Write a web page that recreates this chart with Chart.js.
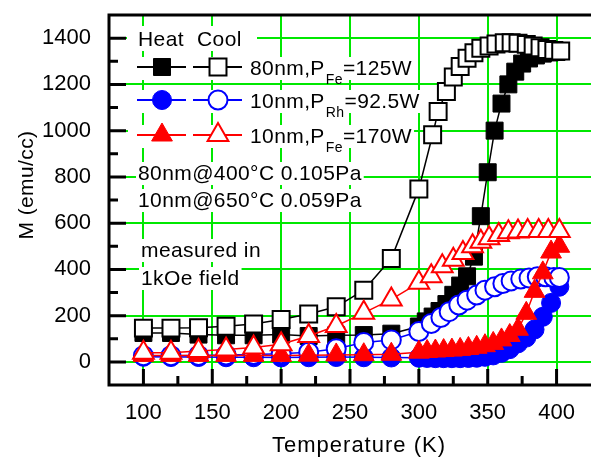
<!DOCTYPE html>
<html lang="en">
<head>
<meta charset="UTF-8">
<title>M vs Temperature</title>
<script src="https://cdn.jsdelivr.net/npm/chart.js"></script>
<style>
  html, body { margin: 0; padding: 0; background: #fff; }
  #wrap { width: 605px; height: 457px; }
</style>
</head>
<body>
<div id="wrap"><canvas id="mtChart" width="605" height="457"></canvas></div>
<script>
// ---- data ----
// 80nm, P_Fe = 125W (squares)
const T_SQ_HEAT = [100,120,140,160,180,200,220,240,260,280,300,305,310,315,320,325,330,335,340,345,350,355,360,365,370,375,380,385,390,395,400];
const M_SQ_HEAT = [125,125,118,115,115,118,112,115,116,122,153,175,196,220,250,290,330,370,455,630,820,1000,1117,1200,1255,1290,1312,1325,1333,1338,1340];
const T_SQ_COOL = [100,120,140,160,180,200,220,240,260,280,300,310,314,320,325,330,335,340,345,351,356,362,367,372,378,383,388,393,398,403];
const M_SQ_COOL = [146,146,148,154,164,183,207,238,310,447,748,982,1083,1169,1232,1277,1313,1337,1356,1366,1375,1380,1380,1378,1373,1366,1358,1351,1347,1344];

// 10nm, P_Rh = 92.5W (circles)
const T_CI_HEAT = [100,120,140,160,180,200,220,240,260,280,300,306,312,318,324,330,336,342,348,354,360,366,372,378,384,390,396,402];
const M_CI_HEAT = [22,21,21,20,20,19,20,21,20,19,18,17,16,16,16,16,17,18,22,28,39,55,80,105,140,195,255,325];
const T_CI_COOL = [100,120,140,160,180,200,220,240,260,280,300,309,316,322,329,335,342,348,355,361,367,374,380,386,392,398,402];
const M_CI_COOL = [27,27,28,30,32,35,42,57,84,95,131,166,192,217,246,267,289,310,325,339,350,358,363,368,368,365,365];

// 10nm, P_Fe = 170W (triangles)
const T_TR_HEAT = [100,120,140,160,180,200,220,240,260,280,300,306,312,318,324,330,336,342,348,354,360,366,372,378,384,390,396,402];
const M_TR_HEAT = [28,28,28,28,28,28,29,30,31,33,42,45,47,49,51,54,58,63,70,80,95,114,141,210,305,385,475,500];
const T_TR_COOL = [100,120,140,160,180,200,220,240,260,280,300,309,317,325,332,339,345,351,358,365,372,379,387,394,402];
const M_TR_COOL = [40,40,47,54,62,76,112,155,212,270,342,370,413,442,471,500,520,535,549,561,564,566,566,566,566];

// axes
const X_TICKS = [100,150,200,250,300,350,400];
const X_MINOR = [125,175,225,275,325,375];
const Y_TICKS = [0,200,400,600,800,1000,1200,1400];
const Y_MINOR = [100,300,500,700,900,1100,1300];

const GREEN = '#00e800';
const FONT = 'Arial, "Liberation Sans", sans-serif';
const R = { rect: 12, circle: 9.5, triangle: 12 };

function pts(ts, ms) {
  return ts.map((t, i) => ({ x: t, y: ms[i] }));
}

function series(label, ts, ms, style, color, filled) {
  return {
    label: label,
    data: pts(ts, ms),
    showLine: true,
    fill: false,
    borderColor: color,
    borderWidth: 1.5,
    pointStyle: style,
    pointRadius: R[style],
    pointHoverRadius: R[style],
    pointBackgroundColor: filled ? color : '#ffffff',
    pointBorderColor: color,
    pointBorderWidth: filled ? 1 : 2
  };
}

// legend rows: marker style, colour, marker y, text baseline, text pieces [main, sub, rest]
const legendRows = [
  { style: 'rect', color: '#000000', y: 67, base: 75, text: ['80nm,P', 'Fe', '=125W'] },
  { style: 'circle', color: '#0000ff', y: 100, base: 108, text: ['10nm,P', 'Rh', '=92.5W'] },
  { style: 'triangle', color: '#ff0000', y: 135, base: 143, text: ['10nm,P', 'Fe', '=170W'] }
];
const notes = [
  { x: 138, base: 180, text: '80nm@400\u00b0C 0.105Pa' },
  { x: 138, base: 207, text: '10nm@650\u00b0C 0.059Pa' },
  { x: 141, base: 257, text: 'measured in' },
  { x: 141, base: 285, text: '1kOe field' }
];

function marker(ctx, style, x, y, r, fillCol, strokeCol, lw) {
  ctx.save();
  ctx.beginPath();
  if (style === 'rect') {
    const s = r * Math.SQRT1_2;
    ctx.rect(x - s, y - s, 2 * s, 2 * s);
  } else if (style === 'circle') {
    ctx.arc(x, y, r, 0, Math.PI * 2);
  } else {
    const a = Math.PI * 2 / 3;
    ctx.moveTo(x, y - r);
    ctx.lineTo(x + Math.sin(a) * r, y - Math.cos(a) * r);
    ctx.lineTo(x + Math.sin(2 * a) * r, y - Math.cos(2 * a) * r);
    ctx.closePath();
  }
  ctx.fillStyle = fillCol;
  ctx.fill();
  ctx.lineWidth = lw;
  ctx.strokeStyle = strokeCol;
  ctx.stroke();
  ctx.restore();
}

const mainFont = '21px ' + FONT;
const subFont = '14px ' + FONT;
const SPACING = '0.4px';

function noPad(s) {
  s.paddingTop = 0; s.paddingBottom = 0; s.paddingLeft = 0; s.paddingRight = 0;
}

const decorPlugin = {
  id: 'decor',
  beforeDatasetsDraw(chart) {
    // white boxes behind the annotation text (they cut the grid like in the original)
    const ctx = chart.ctx;
    ctx.save();
    ctx.letterSpacing = SPACING;
    ctx.fillStyle = '#ffffff';
    ctx.fillRect(127, 26, 130, 25);
    legendRows.forEach(row => {
      ctx.font = mainFont;
      let w = ctx.measureText(row.text[0]).width + ctx.measureText(row.text[2]).width;
      ctx.font = subFont;
      w += ctx.measureText(row.text[1]).width;
      ctx.fillRect(128, row.base - 18, 250 + w + 3 - 128, 23);
    });
    ctx.font = mainFont;
    notes.forEach(n => {
      const w = ctx.measureText(n.text).width;
      ctx.fillRect(n.x - 2, n.base - 18, w + 4, 23);
    });
    ctx.restore();
  },
  afterDatasetsDraw(chart) {
    const ctx = chart.ctx;
    const a = chart.chartArea;
    const xs = chart.scales.x, ys = chart.scales.y;
    ctx.save();

    // frame: left, top, bottom
    ctx.strokeStyle = '#000';
    ctx.lineWidth = 3;
    ctx.beginPath();
    ctx.moveTo(a.right, a.top);
    ctx.lineTo(a.left, a.top);
    ctx.lineTo(a.left, a.bottom);
    ctx.lineTo(a.right, a.bottom);
    ctx.stroke();

    // inward ticks
    ctx.beginPath();
    Y_TICKS.forEach(v => { const y = ys.getPixelForValue(v); ctx.moveTo(a.left, y); ctx.lineTo(a.left + 17, y); });
    Y_MINOR.forEach(v => { const y = ys.getPixelForValue(v); ctx.moveTo(a.left, y); ctx.lineTo(a.left + 9, y); });
    X_TICKS.forEach(v => { const x = xs.getPixelForValue(v); ctx.moveTo(x, a.bottom); ctx.lineTo(x, a.bottom - 16); });
    X_MINOR.forEach(v => { const x = xs.getPixelForValue(v); ctx.moveTo(x, a.bottom); ctx.lineTo(x, a.bottom - 9); });
    ctx.stroke();

    // legend
    ctx.letterSpacing = SPACING;
    ctx.fillStyle = '#000';
    ctx.textBaseline = 'alphabetic';
    ctx.textAlign = 'left';
    ctx.font = mainFont;
    ctx.fillText('Heat', 138, 46);
    ctx.fillText('Cool', 197, 46);

    legendRows.forEach(row => {
      ctx.strokeStyle = row.color;
      ctx.lineWidth = 2;
      ctx.beginPath();
      ctx.moveTo(137, row.y); ctx.lineTo(186, row.y);
      ctx.moveTo(193, row.y); ctx.lineTo(242, row.y);
      ctx.stroke();
      marker(ctx, row.style, 162, row.y, R[row.style], row.color, row.color, 1);
      marker(ctx, row.style, 218, row.y, R[row.style], '#ffffff', row.color, 2);

      ctx.fillStyle = '#000';
      let x = 250;
      ctx.font = mainFont;
      ctx.fillText(row.text[0], x, row.base);
      x += ctx.measureText(row.text[0]).width + 1;
      ctx.font = subFont;
      ctx.fillText(row.text[1], x, row.base + 9);
      x += ctx.measureText(row.text[1]).width;
      ctx.font = mainFont;
      ctx.fillText(row.text[2], x, row.base);
    });

    ctx.font = mainFont;
    notes.forEach(n => ctx.fillText(n.text, n.x, n.base));

    // axis titles
    ctx.textAlign = 'center';
    ctx.save();
    ctx.font = '22px ' + FONT;
    ctx.letterSpacing = '1px';
    ctx.fillText('Temperature (K)', 359, 452);
    ctx.restore();
    ctx.translate(33, 185);
    ctx.rotate(-Math.PI / 2);
    ctx.fillText('M (emu/cc)', 0, 0);
    ctx.restore();
  }
};

const ctx = document.getElementById('mtChart').getContext('2d');
new Chart(ctx, {
  type: 'scatter',
  data: {
    datasets: [
      series('10nm 170W cool', T_TR_COOL, M_TR_COOL, 'triangle', '#ff0000', false),
      series('10nm 170W heat', T_TR_HEAT, M_TR_HEAT, 'triangle', '#ff0000', true),
      series('10nm 92.5W cool', T_CI_COOL, M_CI_COOL, 'circle', '#0000ff', false),
      series('10nm 92.5W heat', T_CI_HEAT, M_CI_HEAT, 'circle', '#0000ff', true),
      series('80nm 125W cool', T_SQ_COOL, M_SQ_COOL, 'rect', '#000000', false),
      series('80nm 125W heat', T_SQ_HEAT, M_SQ_HEAT, 'rect', '#000000', true)
    ]
  },
  options: {
    responsive: false,
    animation: false,
    devicePixelRatio: 1,
    layout: { padding: { top: 15, right: 0, bottom: 0, left: 0 } },
    plugins: {
      legend: { display: false },
      tooltip: { enabled: false }
    },
    scales: {
      x: {
        type: 'linear',
        min: 75,
        max: 425,
        afterBuildTicks: s => { s.ticks = X_TICKS.map(v => ({ value: v })); },
        afterFit: s => { s.height = 72; noPad(s); },
        border: { display: false },
        grid: { color: GREEN, lineWidth: 2, drawTicks: false },
        ticks: { color: '#000', font: { family: FONT, size: 22 }, padding: 15, maxRotation: 0, autoSkip: false,
                 callback: v => String(v) }
      },
      y: {
        min: -100,
        max: 1500,
        afterBuildTicks: s => { s.ticks = Y_TICKS.map(v => ({ value: v })); },
        afterFit: s => { s.width = 109; noPad(s); },
        border: { display: false },
        grid: { color: GREEN, lineWidth: 2, drawTicks: false },
        ticks: { color: '#000', font: { family: FONT, size: 22 }, padding: 18, autoSkip: false,
                 callback: v => String(v) }
      }
    }
  },
  plugins: [decorPlugin]
});
</script>
</body>
</html>
